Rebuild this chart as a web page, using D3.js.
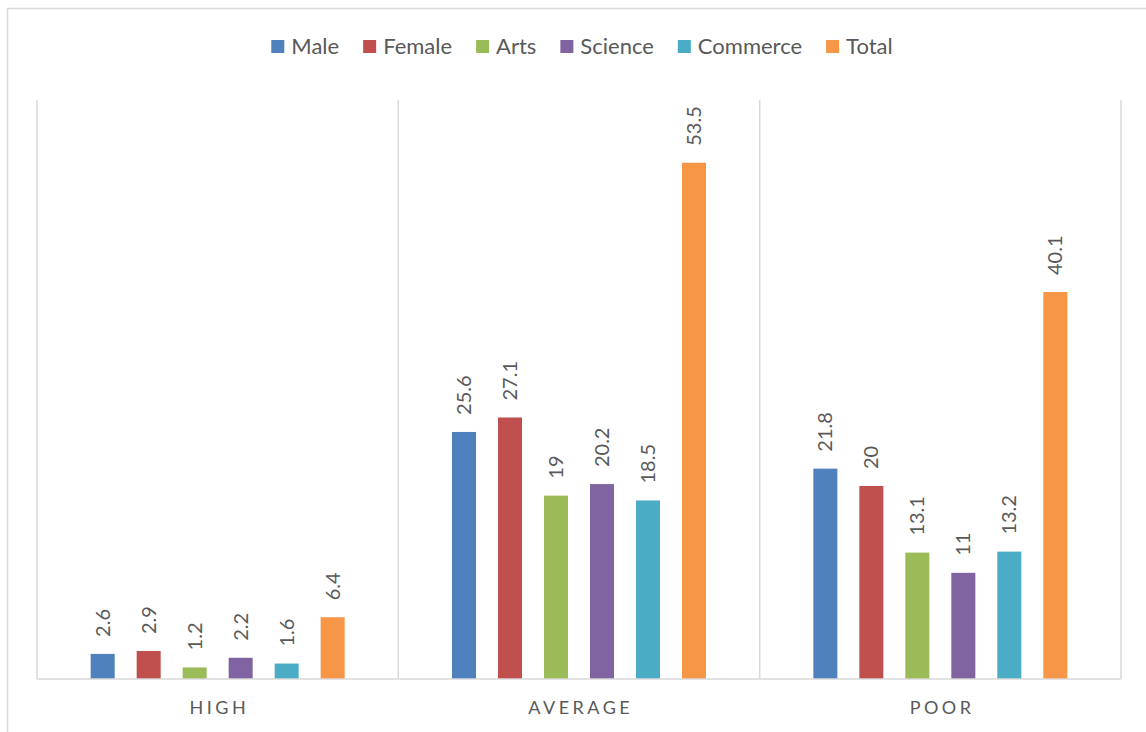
<!DOCTYPE html>
<html>
<head>
<meta charset="utf-8">
<script src="https://cdn.jsdelivr.net/npm/d3@7"></script>
<style>
  html, body { margin: 0; padding: 0; background: #fff; }
  svg { display: block; }
  text { font-family: Lato, "Open Sans", sans-serif; fill: #595959; }
</style>
</head>
<body>
<svg id="chart" width="1146" height="732"></svg>
<script>
// Performance level categories and the share in each group
const categories = ["HIGH", "AVERAGE", "POOR"];
const seriesNames = ["Male", "Female", "Arts", "Science", "Commerce", "Total"];
const male     = [2.6, 25.6, 21.8];
const female   = [2.9, 27.1, 20];
const arts     = [1.2, 19, 13.1];
const science  = [2.2, 20.2, 11];
const commerce = [1.6, 18.5, 13.2];
const total    = [6.4, 53.5, 40.1];
const seriesColors = ["#4F81BD", "#C0504D", "#9BBB59", "#8064A2", "#4BACC6", "#F79646"];

const seriesValues = [male, female, arts, science, commerce, total];
const rows = categories.map((c, i) => ({
  category: c,
  values: seriesNames.map((s, j) => ({ series: s, value: seriesValues[j][i] }))
}));

const svg = d3.select("#chart");
const gridColor = "#D9D9D9";

// chart-area outline
svg.append("rect")
  .attr("x", 7.5).attr("y", 8.5)
  .attr("width", 1160).attr("height", 760)
  .attr("fill", "none").attr("stroke", gridColor).attr("stroke-width", 1.5);

const plot = { left: 37, right: 1121, top: 100, bottom: 679 };

const x0 = d3.scaleBand()
  .domain(categories)
  .range([plot.left, plot.right])
  .paddingInner(0).paddingOuter(0);

const x1 = d3.scaleBand()
  .domain(seriesNames)
  .range([0, x0.bandwidth()])
  .paddingInner(0.478)
  .paddingOuter(1.167);

const y = d3.scaleLinear().domain([0, 60]).range([plot.bottom, plot.top]);

// category separators
const seps = [plot.left].concat(categories.map(c => x0(c) + x0.bandwidth()));
svg.append("g").selectAll("line").data(seps).join("line")
  .attr("x1", d => d).attr("x2", d => d)
  .attr("y1", plot.top).attr("y2", plot.bottom)
  .attr("stroke", gridColor).attr("stroke-width", 1.5);

// bars
const groups = svg.append("g").selectAll("g").data(rows).join("g")
  .attr("transform", d => `translate(${x0(d.category)},0)`);

groups.selectAll("rect").data(d => d.values).join("rect")
  .attr("x", d => x1(d.series))
  .attr("y", d => y(d.value))
  .attr("width", x1.bandwidth())
  .attr("height", d => y(0) - y(d.value))
  .attr("fill", (d, i) => seriesColors[i]);

// rotated value labels
groups.selectAll("text").data(d => d.values).join("text")
  .attr("transform", d => `translate(${x1(d.series) + x1.bandwidth() / 2},${y(d.value) - 17}) rotate(-90)`)
  .attr("dy", "0.35em")
  .attr("text-anchor", "start")
  .style("font-size", "20px")
  .text(d => d.value);

// category axis
svg.append("line")
  .attr("x1", plot.left).attr("x2", plot.right)
  .attr("y1", plot.bottom).attr("y2", plot.bottom)
  .attr("stroke", gridColor).attr("stroke-width", 1.5);

const xAxis = d3.axisBottom(x0).tickSize(0).tickPadding(0);
const axisG = svg.append("g")
  .attr("transform", `translate(0,${plot.bottom})`)
  .call(xAxis);
axisG.select(".domain").remove();
axisG.selectAll("text")
  .attr("y", 0).attr("dy", null)
  .attr("transform", "translate(1.75,35)")
  .style("font-size", "18px")
  .style("letter-spacing", "3.5px")
  .style("font-family", "Lato, 'Open Sans', sans-serif")
  .attr("fill", "#595959");

// legend
const legend = svg.append("g");
const items = legend.selectAll("g").data(seriesNames).join("g");
items.append("rect")
  .attr("width", 13).attr("height", 13)
  .attr("y", 40)
  .attr("fill", (d, i) => seriesColors[i]);
items.append("text")
  .attr("x", 20).attr("y", 46.5).attr("dy", "0.35em")
  .style("font-size", "22px")
  .text(d => d);
let cx = 0;
items.each(function () {
  const w = 20 + d3.select(this).select("text").node().getComputedTextLength();
  d3.select(this).attr("transform", `translate(${cx},0)`);
  cx += w + 24;
});
const legendWidth = cx - 24;
legend.attr("transform", `translate(${582 - legendWidth / 2},0)`);
</script>
</body>
</html>
